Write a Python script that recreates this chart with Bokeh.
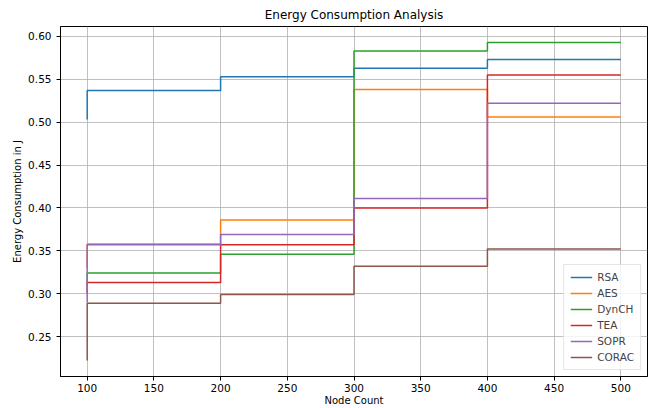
from bokeh.plotting import figure
from bokeh.models import Range1d, FixedTicker, NumeralTickFormatter, Legend, LegendItem
from bokeh.embed import file_html
from bokeh.resources import INLINE

node_count = [100, 200, 300, 400, 500]
rsa = [0.503, 0.537, 0.553, 0.563, 0.573]
aes = [0.330, 0.358, 0.386, 0.538, 0.506]
dynch = [0.310, 0.324, 0.346, 0.583, 0.593]
tea = [0.300, 0.313, 0.357, 0.400, 0.555]
sopr = [0.290, 0.357, 0.369, 0.411, 0.522]
corac = [0.222, 0.289, 0.299, 0.332, 0.352]

series = [("RSA", rsa, "#1f77b4"), ("AES", aes, "#ff7f0e"), ("DynCH", dynch, "#2ca02c"),
          ("TEA", tea, "#d62728"), ("SOPR", sopr, "#9467bd"), ("CORAC", corac, "#8c564b")]

all_y = rsa + aes + dynch + tea + sopr + corac
ymin, ymax = min(all_y), max(all_y)
ypad = (ymax - ymin) * 0.05
xpad = (max(node_count) - min(node_count)) * 0.05

FONT = "DejaVu Sans"
p = figure(width=654, height=408, output_backend="svg", toolbar_location=None,
           x_range=Range1d(min(node_count) - xpad, max(node_count) + xpad),
           y_range=Range1d(ymin - ypad, ymax + ypad),
           title="Energy Consumption Analysis",
           min_border_left=60, min_border_right=7, min_border_bottom=20, min_border_top=4)

p.title.align = "center"
p.title.text_font = FONT
p.title.text_font_size = "12px"
p.title.text_font_style = "normal"
p.title.text_color = "black"

p.outline_line_color = "black"
p.outline_line_width = 1

for ax in (p.xaxis, p.yaxis):
    ax.axis_line_color = "black"
    ax.major_tick_in = 0
    ax.major_tick_out = 4
    ax.minor_tick_line_color = None
    ax.major_label_text_font = FONT
    ax.major_label_text_font_size = "10.5px"
    ax.major_label_text_color = "black"
    ax.axis_label_text_font = FONT
    ax.axis_label_text_font_size = "10px"
    ax.axis_label_text_font_style = "normal"
    ax.axis_label_text_color = "black"

p.xaxis.ticker = FixedTicker(ticks=[100, 150, 200, 250, 300, 350, 400, 450, 500])
p.yaxis.ticker = FixedTicker(ticks=[0.25, 0.30, 0.35, 0.40, 0.45, 0.50, 0.55, 0.60])
p.yaxis.formatter = NumeralTickFormatter(format="0.00")
p.xaxis.axis_label = "Node Count"
p.yaxis.axis_label = "Energy Consumption in J"
p.xaxis.major_label_standoff = 3
p.xaxis.axis_label_standoff = 0
p.yaxis.axis_label_standoff = 2

p.grid.grid_line_color = "#b0b0b0"
p.grid.grid_line_width = 0.8

items = []
for name, ys, col in series:
    r = p.step(node_count, ys, mode="before", line_color=col, line_width=1.5)
    items.append(LegendItem(label=name, renderers=[r]))

legend = Legend(items=items, location="bottom_right")
legend.label_text_font = FONT
legend.label_text_font_size = "10.5px"
legend.label_height = 12
legend.glyph_height = 12
legend.glyph_width = 22
legend.spacing = 4
legend.padding = 6
legend.margin = 6
legend.border_line_color = "#cccccc"
legend.background_fill_alpha = 0.8
p.add_layout(legend)

open("out.html", "w").write(file_html(p, INLINE))
